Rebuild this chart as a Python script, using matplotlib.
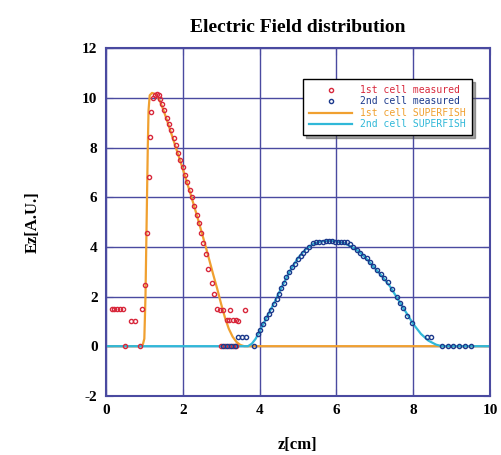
import matplotlib
matplotlib.use('Agg')
import matplotlib.pyplot as plt

# 1st cell measured
x1_meas = [0.15, 0.22, 0.29, 0.36, 0.45, 0.5, 0.65, 0.75, 0.88, 0.93,
           1.02, 1.06, 1.13, 1.15, 1.17, 1.22, 1.27, 1.32, 1.37, 1.42, 1.47,
           1.52, 1.58, 1.64, 1.7, 1.76, 1.82, 1.88, 1.94, 2.0, 2.06, 2.12,
           2.18, 2.24, 2.3, 2.36, 2.42, 2.48, 2.53, 2.6, 2.67, 2.75, 2.82,
           2.88, 2.97, 3.05, 3.14, 3.2, 3.23, 3.3, 3.38, 3.44, 3.62, 3.0, 3.1, 3.2, 3.3, 3.4]
y1_meas = [1.5, 1.5, 1.5, 1.5, 1.5, 0.0, 1.0, 1.0, 0.0, 1.5,
           2.46, 4.57, 6.83, 8.44, 9.45, 10.0, 10.1, 10.15, 10.1, 9.95, 9.75,
           9.5, 9.2, 8.95, 8.7, 8.4, 8.1, 7.8, 7.5, 7.2, 6.9, 6.6,
           6.3, 6.0, 5.65, 5.3, 4.95, 4.55, 4.14, 3.7, 3.1, 2.53, 2.1,
           1.5, 1.45, 1.45, 1.05, 1.05, 1.45, 1.05, 1.05, 1.0, 1.45, 0.0, 0.0, 0.0, 0.0, 0.0]

# 2nd cell measured
x2_meas = [3.05, 3.15, 3.25, 3.35, 3.45, 3.55, 3.65, 3.85, 3.95, 4.01, 4.1,
           4.18, 4.25, 4.31, 4.38, 4.45, 4.51, 4.57, 4.63, 4.7, 4.77, 4.85,
           4.92, 5.0, 5.07, 5.14, 5.21, 5.3, 5.4, 5.48, 5.56, 5.64, 5.72,
           5.8, 5.88, 5.96, 6.04, 6.12, 6.2, 6.27, 6.35, 6.44, 6.53, 6.62,
           6.7, 6.79, 6.88, 6.96, 7.05, 7.15, 7.25, 7.35, 7.46, 7.57, 7.65,
           7.74, 7.85, 7.96, 8.35, 8.46, 8.74, 8.9, 9.05, 9.2, 9.35, 9.5]
y2_meas = [0.0, 0.0, 0.0, 0.0, 0.37, 0.37, 0.37, 0.0, 0.5, 0.65, 0.9,
           1.12, 1.3, 1.45, 1.7, 1.92, 2.12, 2.33, 2.55, 2.8, 3.0, 3.18,
           3.33, 3.5, 3.62, 3.74, 3.88, 4.0, 4.14, 4.18, 4.2, 4.21, 4.22,
           4.22, 4.22, 4.21, 4.21, 4.2, 4.2, 4.18, 4.1, 4.0, 3.87, 3.75,
           3.65, 3.54, 3.4, 3.22, 3.06, 2.9, 2.75, 2.59, 2.3, 1.99, 1.75,
           1.52, 1.2, 0.92, 0.38, 0.38, 0.0, 0.0, 0.0, 0.0, 0.0, 0.0]

# SUPERFISH curves
x1_sf = [0, 0.95, 1.0, 1.03, 1.05, 1.07, 1.09, 1.11, 1.14, 1.2, 1.3, 1.4,
         1.5, 1.6, 1.8, 2.0, 2.2, 2.4, 2.6, 2.8, 2.9, 3.0, 3.1, 3.2, 3.3,
         3.4, 3.5, 3.6, 10]
y1_sf = [0, 0, 0.3, 2.0, 4.0, 6.0, 8.0, 9.5, 10.1, 10.2, 10.15, 9.9,
         9.5, 9.05, 8.1, 7.15, 6.15, 5.1, 4.0, 2.85, 2.3, 1.7, 1.15, 0.7, 0.38,
         0.17, 0.05, 0, 0]

x2_sf = [0, 3.7, 3.8, 3.9, 4.0, 4.2, 4.4, 4.6, 4.8, 5.0, 5.2, 5.4, 5.6,
         5.8, 6.0, 6.2, 6.4, 6.6, 6.8, 7.0, 7.2, 7.4, 7.6, 7.8, 8.0, 8.2,
         8.4, 8.6, 8.75, 10]
y2_sf = [0, 0, 0.1, 0.3, 0.6, 1.2, 1.8, 2.45, 3.05, 3.55, 3.9, 4.12, 4.22,
         4.25, 4.23, 4.15, 4.0, 3.8, 3.5, 3.15, 2.8, 2.4, 1.9, 1.4, 0.9, 0.5,
         0.22, 0.06, 0, 0]

red = '#d8283c'
navy = '#1c3a8c'
orange = '#f0a030'
cyan = '#30b8d8'
frame = '#4a4aa0'

serif = ['Liberation Serif', 'DejaVu Serif']

fig = plt.figure(figsize=(5.02, 4.55), dpi=100)
ax = fig.add_axes([0.211, 0.13, 0.765, 0.764])

ax.plot(x1_sf, y1_sf, color=orange, lw=1.6, label='1st cell SUPERFISH', zorder=2)
ax.plot(x2_sf, y2_sf, color=cyan, lw=1.6, label='2nd cell SUPERFISH', zorder=2)
ax.plot(x1_meas, y1_meas, 'o', ms=3, mfc='none', mec=red, mew=1.0,
        label='1st cell measured', zorder=3)
ax.plot(x2_meas, y2_meas, 'o', ms=3, mfc='none', mec=navy, mew=1.0,
        label='2nd cell measured', zorder=3)

ax.set_xlim(0, 10)
ax.set_ylim(-2, 12)
xt = list(range(0, 11, 2))
yt = list(range(-2, 13, 2))
ax.set_xticks(xt, [str(v) for v in xt])
ax.set_yticks(yt, [str(v) for v in yt])
ax.grid(True, color=frame, lw=1.0)
for s in ax.spines.values():
    s.set_color(frame)
    s.set_linewidth(1.5)
ax.tick_params(direction='in', top=True, right=True, color=frame, length=5,
               labelsize=11, pad=6)
for lab in ax.get_xticklabels() + ax.get_yticklabels():
    lab.set_family(serif)
    lab.set_fontweight('bold')

ax.set_title('Electric Field distribution', family=serif, fontweight='bold',
             fontsize=14, pad=12)
ax.set_xlabel('z[cm]', family=serif, fontweight='bold', fontsize=12, labelpad=14)
ax.set_ylabel('Ez[A.U.]', family=serif, fontweight='bold', fontsize=12, labelpad=30)

h, l = ax.get_legend_handles_labels()
order = [2, 3, 0, 1]
leg = ax.legend([h[i] for i in order], [l[i] for i in order],
                loc='upper left', bbox_to_anchor=(0.5, 0.925),
                prop={'family': 'DejaVu Sans Mono', 'size': 7},
                handlelength=4.5, fancybox=False, shadow=True,
                edgecolor='black', framealpha=1, borderpad=0.6,
                labelspacing=0.15)
for t, c in zip(leg.get_texts(), [red, navy, orange, cyan]):
    t.set_color(c)

fig.savefig('out.png', dpi=100)
